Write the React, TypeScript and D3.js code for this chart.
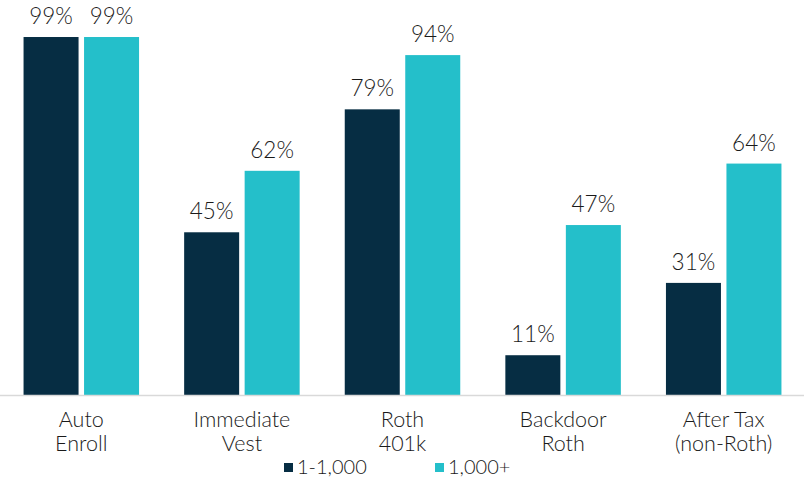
import React from "react";
import * as d3 from "d3";

const categories = [["Auto", "Enroll"], ["Immediate", "Vest"], ["Roth", "401k"], ["Backdoor", "Roth"], ["After Tax", "(non-Roth)"]];
const seriesNames = ["1-1,000", "1,000+"];
const small = [99, 45, 79, 11, 31];
const large = [99, 62, 94, 47, 64];
const colors = ["#062d43", "#24bfca"];

const W = 804, H = 480;
const FONT = "Lato, 'Open Sans', sans-serif";

export default function App() {
  const x = d3.scaleBand<number>().domain(d3.range(categories.length)).range([1, 804]).paddingInner(0).paddingOuter(0);
  const y = d3.scaleLinear().domain([0, 100]).range([395, 33.4]);
  const barW = 55, gap = 5.5;
  const series = [small, large];
  return (
    <svg width={W} height={H} style={{ position: "absolute", left: 0, top: 0 }} fontFamily={FONT} fontWeight={300}>
      <rect width={W} height={H} fill="#fff" />
      {categories.map((c, i) => {
        const cx = x(i)! + x.bandwidth() / 2;
        return (
          <g key={i}>
            {series.map((s, k) => {
              const bx = k === 0 ? cx - gap / 2 - barW : cx + gap / 2;
              return (
                <g key={k}>
                  <rect x={bx} y={y(s[i])} width={barW} height={y(0) - y(s[i])} fill={colors[k]} />
                  <text x={bx + barW / 2} y={y(s[i]) - 13} textAnchor="middle" fontSize={22.5} fill="#1a1a1a">{s[i]}%</text>
                </g>
              );
            })}
            {c.map((line, j) => (
              <text key={j} x={cx} y={427 + j * 24} textAnchor="middle" fontSize={21.5} fill="#1a1a1a">{line}</text>
            ))}
          </g>
        );
      })}
      <line x1={0} x2={W} y1={395.5} y2={395.5} stroke="#d9d9d9" strokeWidth={1.5} />
      <g>
        <rect x={284} y={463} width={9} height={9} fill={colors[0]} />
        <text x={297} y={474} fontSize={20} fill="#1a1a1a">{seriesNames[0]}</text>
        <rect x={435} y={463} width={9} height={9} fill={colors[1]} />
        <text x={448} y={474} fontSize={20} fill="#1a1a1a">{seriesNames[1]}</text>
      </g>
    </svg>
  );
}
